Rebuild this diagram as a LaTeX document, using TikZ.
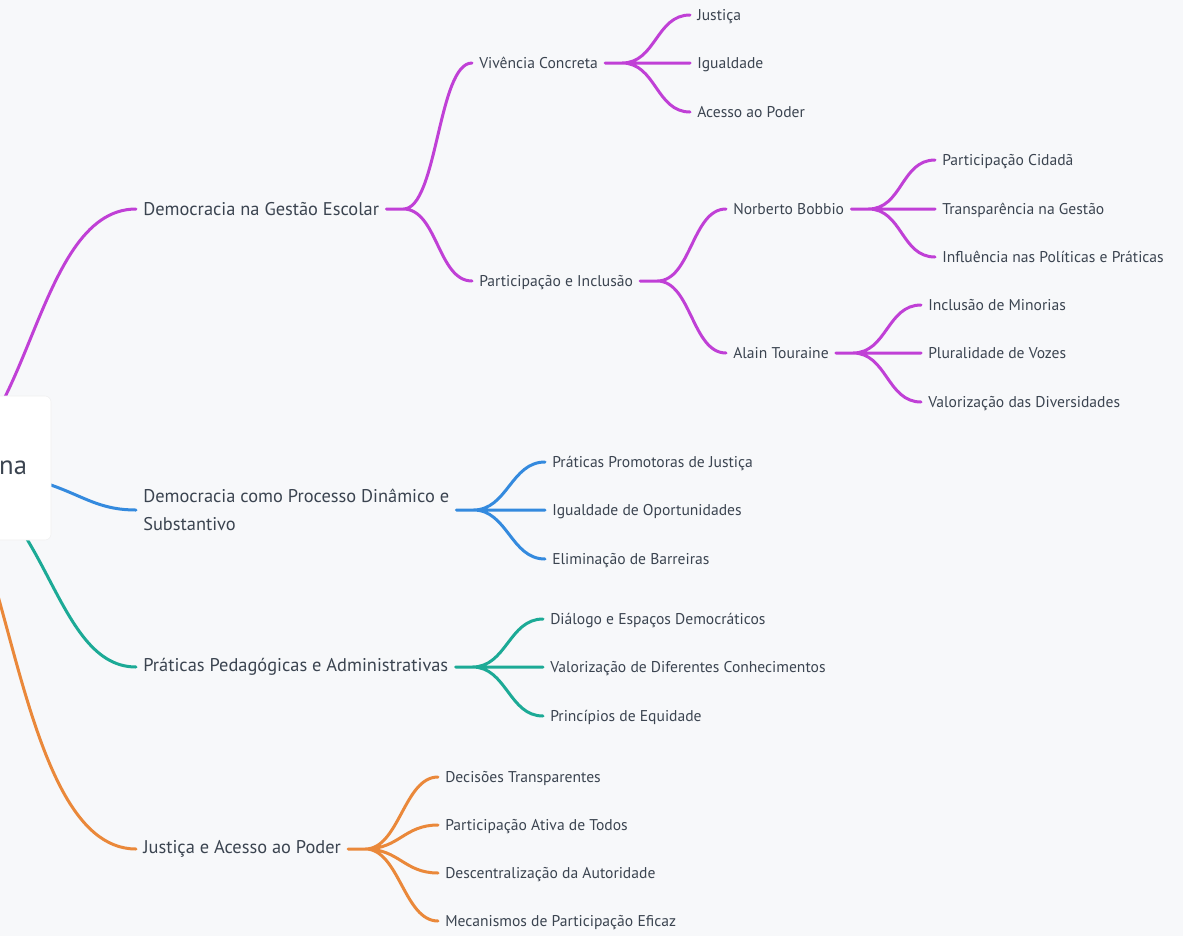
\documentclass[tikz,border=0pt]{standalone}
\usepackage{fontspec}
\setmainfont{PT Sans}
\usepackage{tikz}
\usetikzlibrary{backgrounds}
\definecolor{pagebg}{RGB}{247,248,250}
\definecolor{inktext}{RGB}{59,68,80}
\definecolor{brmag}{RGB}{192,64,214}
\definecolor{brblue}{RGB}{52,138,222}
\definecolor{brteal}{RGB}{28,170,150}
\definecolor{brorange}{RGB}{234,136,58}
\tikzset{
  lvlone/.style={anchor=west, inner xsep=5.25pt, inner ysep=2pt, text=inktext, font=\fontsize{13.8}{21}\selectfont, align=left},
  lvltwo/.style={anchor=west, inner xsep=5.25pt, inner ysep=2pt, text depth=0pt, text=inktext, font=\fontsize{11.7}{14}\selectfont},
  branch/.style={line width=2.25pt, line cap=round},
  fan/.style={to path={(\tikztostart) -- ++(17,0) .. controls +(34,0) and +(-34,0) .. (\tikztotarget)}}
}

\begin{document}
\begin{tikzpicture}[x=0.75pt,y=-0.75pt]
\useasboundingbox (0,0) rectangle (1183,936);
\begin{pgfonlayer}{background}
\fill[pagebg] (0,0) rectangle (1183,936);
\end{pgfonlayer}
% centre
\node[fill=white, draw=black!6, rounded corners=4.5pt, text width=153pt, align=right, inner xsep=18pt, minimum height=108pt, text=inktext, font=\fontsize{20}{24}\selectfont] (root) at (-75,468) {na};
% first level
\node[lvlone] (dge) at (136,209) {Democracia na Gestão Escolar};
\node[lvlone] (dpd) at (136,510) {Democracia como Processo Dinâmico e\\Substantivo};
\node[lvlone] (ppa) at (136,667) {Práticas Pedagógicas e Administrativas};
\node[lvlone] (jap) at (136,849) {Justiça e Acesso ao Poder};
% democracia na gestao
\node[lvltwo] (viv) at (472,63) {Vivência Concreta};
\node[lvltwo] (pei) at (472,281) {Participação e Inclusão};
\node[lvltwo] (jus) at (690,15) {Justiça};
\node[lvltwo] (igu) at (690,63) {Igualdade};
\node[lvltwo] (ace) at (690,112) {Acesso ao Poder};
\node[lvltwo] (bob) at (726,209) {Norberto Bobbio};
\node[lvltwo] (tou) at (726,353) {Alain Touraine};
\node[lvltwo] (pcid) at (935,160) {Participação Cidadã};
\node[lvltwo] (trg) at (935,209) {Transparência na Gestão};
\node[lvltwo] (inf) at (935,257) {Influência nas Políticas e Práticas};
\node[lvltwo] (imin) at (921,305) {Inclusão de Minorias};
\node[lvltwo] (pvoz) at (921,353) {Pluralidade de Vozes};
\node[lvltwo] (vdiv) at (921,402) {Valorização das Diversidades};
% processo dinamico
\node[lvltwo] (ppj) at (545,462) {Práticas Promotoras de Justiça};
\node[lvltwo] (iop) at (545,510) {Igualdade de Oportunidades};
\node[lvltwo] (ebar) at (545,559) {Eliminação de Barreiras};
% praticas
\node[lvltwo] (dedm) at (543,619) {Diálogo e Espaços Democráticos};
\node[lvltwo] (vdco) at (543,667) {Valorização de Diferentes Conhecimentos};
\node[lvltwo] (peq) at (543,716) {Princípios de Equidade};
% justica
\node[lvltwo] (dtr) at (438,777) {Decisões Transparentes};
\node[lvltwo] (pat) at (438,825) {Participação Ativa de Todos};
\node[lvltwo] (dcen) at (438,873) {Descentralização da Autoridade};
\node[lvltwo] (mpe) at (438,921) {Mecanismos de Participação Eficaz};

% branches out of the centre, kept under the box
\begin{pgfonlayer}{background}
\draw[branch, brmag] (root.center) .. controls +(105,0) and +(-105,0) .. (dge.west);
\draw[branch, brblue] (root.center) .. controls +(147,0) and +(-64,0) .. (dpd.west);
\draw[branch, brteal] (root.center) .. controls +(122,0) and +(-89,0) .. (ppa.west);
\draw[branch, brorange] (root.center) .. controls +(85,0) and +(-126,0) .. (jap.west);
\end{pgfonlayer}

\draw[branch, brmag] (dge.east) to[fan] (viv.west) (dge.east) to[fan] (pei.west);
\draw[branch, brmag] (viv.east) to[fan] (jus.west) (viv.east) to[fan] (igu.west) (viv.east) to[fan] (ace.west);
\draw[branch, brmag] (pei.east) to[fan] (bob.west) (pei.east) to[fan] (tou.west);
\draw[branch, brmag] (bob.east) to[fan] (pcid.west) (bob.east) to[fan] (trg.west) (bob.east) to[fan] (inf.west);
\draw[branch, brmag] (tou.east) to[fan] (imin.west) (tou.east) to[fan] (pvoz.west) (tou.east) to[fan] (vdiv.west);
\draw[branch, brblue] (dpd.east) to[fan] (ppj.west) (dpd.east) to[fan] (iop.west) (dpd.east) to[fan] (ebar.west);
\draw[branch, brteal] (ppa.east) to[fan] (dedm.west) (ppa.east) to[fan] (vdco.west) (ppa.east) to[fan] (peq.west);
\draw[branch, brorange] (jap.east) to[fan] (dtr.west) (jap.east) to[fan] (pat.west) (jap.east) to[fan] (dcen.west) (jap.east) to[fan] (mpe.west);
\end{tikzpicture}
\end{document}
